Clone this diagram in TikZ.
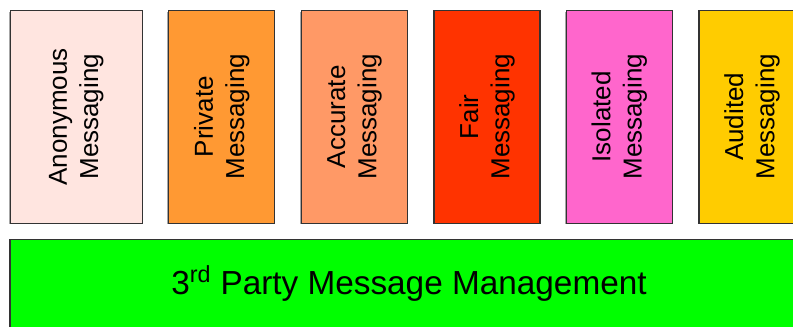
\documentclass[tikz,border=0pt]{standalone}
\usepackage{fontspec}
\setmainfont{Liberation Sans}
\usepackage{tikz}
\definecolor{colAnon}{rgb}{1.000,0.898,0.878}
\definecolor{colPriv}{rgb}{1.000,0.600,0.200}
\definecolor{colAccu}{rgb}{1.000,0.600,0.400}
\definecolor{colFair}{rgb}{1.000,0.200,0.000}
\definecolor{colIsol}{rgb}{1.000,0.400,0.800}
\definecolor{colAudi}{rgb}{1.000,0.800,0.000}
\definecolor{colMgmt}{rgb}{0.000,1.000,0.000}
\definecolor{myborder}{rgb}{0.200,0.200,0.200}
\tikzstyle{layer}=[rectangle,draw=myborder,line width=0.9pt,inner sep=0pt]
\tikzstyle{service}=[layer,minimum width=159.75pt,minimum height=79.5pt,
  rotate=90,align=center,font=\fontsize{19.5}{23.3}\selectfont]
\tikzstyle{shade}=[fill=black!35,draw=none]

\begin{document}
\begin{tikzpicture}[x=0.75pt,y=-0.75pt]
	\useasboundingbox (0,0) rectangle (793,327);
	\clip (0,0) rectangle (793,327);
	% shadows behind the boxes
		\fill [style=shade] (8.5,12) rectangle (141,224.5);
		\foreach \l in {167,299.5,432.5,564.5,697.5}
			\fill [style=shade] (\l,12) rectangle (\l+106,224.5);
		\fill [style=shade] (8.5,241) rectangle (808,330);
	% service boxes
		\node [style=service,fill=colAnon,minimum height=99pt] (anon) at (76.25,116.75) {Anonymous\\Messaging};
		\node [style=service,fill=colPriv] (priv) at (221.75,116.75) {Private\\Messaging};
		\node [style=service,fill=colAccu] (accu) at (354.5,116.75) {Accurate\\Messaging};
		\node [style=service,fill=colFair] (fair) at (487,116.75) {Fair\\Messaging};
		\node [style=service,fill=colIsol] (isol) at (619.25,116.75) {Isolated\\Messaging};
		\node [style=service,fill=colAudi] (audi) at (752,116.75) {Audited\\Messaging};
	% management layer underneath
		\node [style=layer,fill=colMgmt,minimum width=598.5pt,minimum height=66.75pt,
			font=\fontsize{25}{30}\selectfont] (mgmt) at (409,283.75) {3\textsuperscript{rd} Party Message Management};
\end{tikzpicture}
\end{document}
